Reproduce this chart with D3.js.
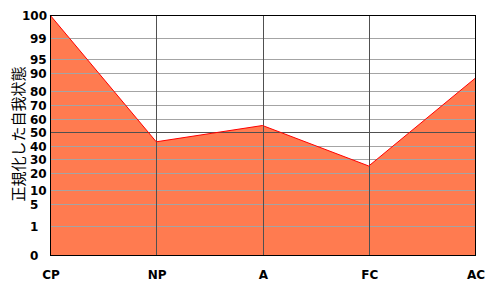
<!DOCTYPE html>
<html>
<head>
<meta charset="utf-8">
<script src="https://cdn.jsdelivr.net/npm/d3@7"></script>
<style>
  body { margin: 0; background: #fff; }
</style>
</head>
<body>
<div id="chart"></div>
<script>
// data
var categories = ["CP", "NP", "A", "FC", "AC"];
var values = [100, 43, 55, 25, 87];
var yTicks = [0, 1, 5, 10, 20, 30, 40, 50, 60, 70, 80, 90, 95, 99, 100];

// the y axis is not linear: where each tick sits, as a share of the plot height (from bottom)
var yTickShare = [0, 0.121, 0.213, 0.271, 0.342, 0.4, 0.454, 0.513, 0.567, 0.625, 0.683, 0.758, 0.817, 0.904, 1];

var margin = {top: 15, right: 25, bottom: 45, left: 50},
  width = 500 - margin.left - margin.right,
  height = 300 - margin.top - margin.bottom;

var svg = d3.select("#chart")
  .append("svg")
    .attr("width", 500)
    .attr("height", 300)
  .append("g")
    .attr("transform", "translate(" + margin.left + "," + margin.top + ")");

var x = d3.scalePoint()
  .domain(categories)
  .range([0, width]);

var y = d3.scaleLinear()
  .domain(yTicks)
  .range(yTickShare.map(function(s){ return Math.round(height * (1 - s)); }));

var pts = categories.map(function(c, i){ return {cat: c, val: values[i]}; });

// filled area
var area = d3.area()
  .x(function(d){ return x(d.cat); })
  .y0(height)
  .y1(function(d){ return y(d.val); });

svg.append("path")
  .datum(pts)
  .attr("d", area)
  .attr("fill", "#ff7b50");

// horizontal grid
svg.selectAll(".hgrid")
  .data(yTicks.filter(function(t){ return t > 0 && t < 100; }))
  .enter()
  .append("line")
  .attr("x1", 0)
  .attr("x2", width)
  .attr("y1", function(d){ return y(d) + 0.5; })
  .attr("y2", function(d){ return y(d) + 0.5; })
  .attr("stroke", function(d){ return d == 50 ? "#505050" : "#a4a4a4"; })
  .attr("stroke-width", 1)
  .attr("shape-rendering", "crispEdges");

// vertical grid
svg.selectAll(".vgrid")
  .data(categories.slice(1, -1))
  .enter()
  .append("line")
  .attr("x1", function(d){ return Math.round(x(d)) + 0.5; })
  .attr("x2", function(d){ return Math.round(x(d)) + 0.5; })
  .attr("y1", 0)
  .attr("y2", height)
  .attr("stroke", "#505050")
  .attr("shape-rendering", "crispEdges");

// red top edge
svg.append("path")
  .datum(pts)
  .attr("d", d3.line()
    .x(function(d){ return x(d.cat); })
    .y(function(d){ return y(d.val); }))
  .attr("fill", "none")
  .attr("stroke", "#ff0000")
  .attr("stroke-width", 1);

// frame
svg.append("rect")
  .attr("x", 0.5)
  .attr("y", 0.5)
  .attr("width", width)
  .attr("height", height)
  .attr("fill", "none")
  .attr("stroke", "#000")
  .attr("shape-rendering", "crispEdges");

// y tick labels
svg.selectAll(".ylab")
  .data(yTicks)
  .enter()
  .append("text")
  .attr("x", function(d){ return d == 100 ? -28 : -20; })
  .attr("y", function(d){ return y(d) + 1; })
  .attr("dy", "0.35em")
  .text(function(d){ return d; })
  .attr("font-family", "DejaVu Sans, sans-serif")
  .attr("font-weight", "bold")
  .attr("font-size", "12px")
  .attr("fill", "#000");

// x tick labels
svg.selectAll(".xlab")
  .data(categories)
  .enter()
  .append("text")
  .attr("x", function(d){ return x(d) + 1; })
  .attr("y", height + 24)
  .attr("text-anchor", "middle")
  .text(function(d){ return d; })
  .attr("font-family", "DejaVu Sans, sans-serif")
  .attr("font-weight", "bold")
  .attr("font-size", "12px")
  .attr("fill", "#000");

// y axis title
svg.append("text")
  .attr("transform", "translate(" + (-33) + "," + (height / 2 - 1) + ") rotate(-90)")
  .attr("text-anchor", "middle")
  .attr("dominant-baseline", "central")
  .text("正規化した自我状態")
  .attr("font-family", "Noto Sans CJK JP, sans-serif")
  .attr("font-size", "15px")
  .attr("fill", "#000");
</script>
</body>
</html>
